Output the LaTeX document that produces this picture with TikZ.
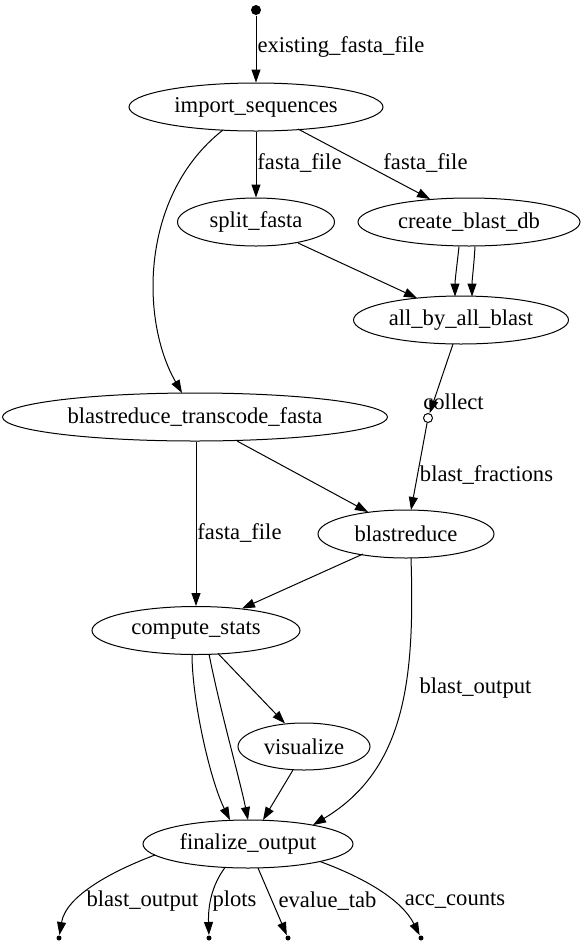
\documentclass[tikz,border=0pt]{standalone}
\usepackage{fontspec}
\setmainfont{Liberation Serif}
\usetikzlibrary{shapes.geometric,arrows.meta,calc}
\begin{document}
\begin{tikzpicture}[x=1pt,y=-1pt,
  every node/.style={font=\fontsize{22.6}{26}\selectfont},
  proc/.style={draw,ellipse,inner sep=0pt,minimum height=48pt},
  lbl/.style={inner sep=0pt},
  edge/.style={draw,-{Triangle[length=13pt,width=9pt]}},
  sink/.style={circle,fill,inner sep=0pt,minimum size=5pt},
  line width=1pt]
\useasboundingbox (0,0) rectangle (586,946);
\node[circle,fill,inner sep=0pt,minimum size=10pt] (start) at (256,10) {};
\node[proc,minimum width=254pt] (imp) at (256,107) {import\_sequences};
\node[proc,minimum width=157pt] (split) at (256,222) {split\_fasta};
\node[proc,minimum width=222pt] (cbd) at (469,222) {create\_blast\_db};
\node[proc,minimum width=215pt] (aba) at (461,320) {all\_by\_all\_blast};
\node[circle,draw,fill=white,inner sep=0pt,minimum size=9pt] (col) at (428,418) {};
\node[proc,minimum width=385pt] (brtf) at (195,417) {blastreduce\_transcode\_fasta};
\node[proc,minimum width=176pt] (br) at (406,534) {blastreduce};
\node[proc,minimum width=208pt] (cs) at (196,630.5) {compute\_stats};
\node[proc,minimum width=132pt,minimum height=47pt] (vis) at (304,746.5) {visualize};
\node[proc,minimum width=210pt] (fin) at (248,844) {finalize\_output};
\node[sink] (s1) at (59,938) {};
\node[sink] (s2) at (209,938) {};
\node[sink] (s3) at (288,938) {};
\node[sink] (s4) at (421,938) {};

% edges
\draw[edge] (start) -- (imp.north);
\draw[edge] (imp.south) -- (split.north);
\draw[edge] ($(imp)+(42,22)$) -- ($(cbd)+(-39,-23)$);
\draw[edge] ($(imp)+(-33,23)$) .. controls (140,195) and (140,320) .. ($(brtf)+(-13,-24)$);
\draw[edge] ($(split)+(42,21)$) -- ($(aba)+(-44,-22)$);
\draw[edge] ($(cbd)+(-10,24.5)$) .. controls (457,265) and (455,280) .. ($(aba)+(-6,-23.5)$);
\draw[edge] ($(cbd)+(6,24.5)$) .. controls (474,265) and (472,280) .. ($(aba)+(11,-23.5)$);
\draw[edge] ($(aba)+(-8,24)$) -- (col);
\draw[edge] (col) -- ($(br)+(5,-24)$);
\draw[edge] ($(brtf)+(42,24)$) -- ($(br)+(-38,-22)$);
\draw[edge] (cs.north |- brtf.south) -- (cs.north);
\draw[edge] ($(br)+(-43,20)$) -- ($(cs)+(46,-22)$);
\draw[edge] ($(br)+(5,24)$) .. controls (415,680) and (405,770) .. ($(fin)+(65,-19)$);
\draw[edge] ($(cs)+(-4,23.5)$) .. controls (192,700) and (210,780) .. ($(fin)+(-18,-24)$);
\draw[edge] ($(cs)+(13,23.5)$) .. controls (220,710) and (240,780) .. ($(fin)+(0,-24)$);
\draw[edge] ($(cs)+(22,23)$) -- ($(vis)+(-19,-23)$);
\draw[edge] ($(vis)+(-11,23.5)$) -- ($(fin)+(15,-24)$);
\draw[edge] ($(fin)+(-93,11)$) .. controls (115,870) and (66,895) .. (s1);
\draw[edge] ($(fin)+(-23,23.5)$) .. controls (212,885) and (208,905) .. (s2);
\draw[edge] ($(fin)+(10,24)$) -- (s3);
\draw[edge] ($(fin)+(72,17.5)$) .. controls (365,878) and (402,900) .. (s4);

% labels
\node[lbl] (l1) at (341,47) {existing\_fasta\_file};
\node[lbl] (l2) at (299.5,163) {fasta\_file};
\node[lbl] (l3) at (425.5,163) {fasta\_file};
\node[lbl] (l4) at (453.5,402) {collect};
\node[lbl] (l5) at (486.5,475) {blast\_fractions};
\node[lbl] (l6) at (239.5,533) {fasta\_file};
\node[lbl] (l7) at (475.5,688) {blast\_output};
\node[lbl] (l8) at (142.5,901) {blast\_output};
\node[lbl] (l9) at (234.5,901) {plots};
\node[lbl] (l10) at (327.5,901) {evalue\_tab};
\node[lbl] (l11) at (455,901) {acc\_counts};
\end{tikzpicture}
\end{document}
